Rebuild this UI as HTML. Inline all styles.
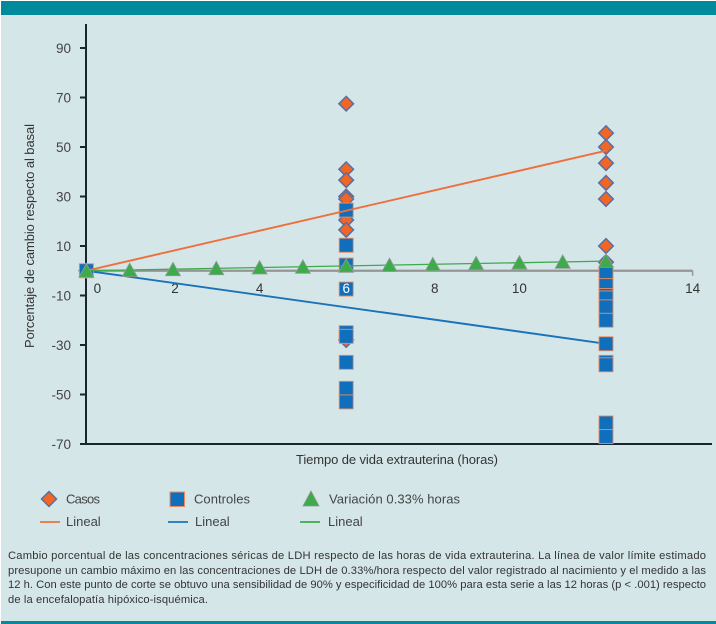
<!DOCTYPE html>
<html lang="es">
<head>
<meta charset="utf-8">
<title>Cambio porcentual de LDH</title>
<style>
html,body{margin:0;padding:0;background:#fff}
body{width:716px;height:624px;overflow:hidden}
svg{display:block;font-family:"Liberation Sans",sans-serif}
</style>
</head>
<body>
<svg id="chart" width="716" height="624" viewBox="0 0 716 624">
  <rect x="1" y="1" width="715" height="623" fill="#d5e6e9"/>
  <rect x="1" y="1" width="715" height="14" fill="#008b9c"/>
  <rect x="1" y="621" width="715" height="3" fill="#008b9c"/>

  <g id="grid-layer"></g>
  <g id="marks-layer"></g>
  <g id="top-label-layer"></g>

  <text x="34" y="236" transform="rotate(-90 34 236)" text-anchor="middle" font-size="13" fill="#333" textLength="224">Porcentaje de cambio respecto al basal</text>
  <text x="296" y="464" font-size="13" fill="#333" textLength="202">Tiempo de vida extrauterina (horas)</text>

  <g font-size="13" fill="#444">
    <g>
      <polygon points="49,491.5 56.5,499 49,506.5 41.5,499" fill="#f26522" stroke="#5b6fa0" stroke-width="1.5"/>
      <text x="66" y="503.5" textLength="34">Casos</text>
    </g>
    <g>
      <rect x="170" y="492" width="14.5" height="14.5" fill="#0f6fbd" stroke="#ee8a5c" stroke-width="1"/>
      <text x="194" y="503.5" textLength="56">Controles</text>
    </g>
    <g>
      <polygon points="311,491 319,506 303,506" fill="#3dab4b" stroke="#8a9a8c" stroke-width="0.8"/>
      <text x="329" y="503.5" textLength="131">Variación 0.33% horas</text>
    </g>
    <g>
      <line x1="40" x2="60" y1="522" y2="522" stroke="#ee6f3c" stroke-width="1.8"/>
      <text x="66" y="526">Lineal</text>
    </g>
    <g>
      <line x1="168" x2="188" y1="522" y2="522" stroke="#1a72b8" stroke-width="1.8"/>
      <text x="195" y="526">Lineal</text>
    </g>
    <g>
      <line x1="300" x2="320" y1="522" y2="522" stroke="#3dab4b" stroke-width="1.8"/>
      <text x="328" y="526">Lineal</text>
    </g>
  </g>

  <g font-size="11.2" fill="#333">
    <text x="8" y="559" textLength="698">Cambio porcentual de las concentraciones séricas de LDH respecto de las horas de vida extrauterina. La línea de valor límite estimado</text>
    <text x="8" y="574" textLength="698">presupone un cambio máximo en las concentraciones de LDH de 0.33%/hora respecto del valor registrado al nacimiento y el medido a las</text>
    <text x="8" y="588" textLength="698">12 h. Con este punto de corte se obtuvo una sensibilidad de 90% y especificidad de 100% para esta serie a las 12 horas (p &lt; .001) respecto</text>
    <text x="8" y="603" textLength="200">de la encefalopatía hipóxico-isquémica.</text>
  </g>
</svg>

<script>
var yTicks = [90, 70, 50, 30, 10, -10, -30, -50, -70];
var xTicks = [0, 2, 4, 6, 8, 10, 12, 14];

var casosX = [0, 6, 6, 6, 6, 6, 6, 6, 6, 12, 12, 12, 12, 12, 12, 12];
var casosY = [0, 67.5, 41, 36.6, 30, 29, 20.5, 16.5, -28, 55.6, 50, 43.5, 35.5, 29, 10, 3.5];

var controlesX = [0, 6, 6, 6, 6, 6, 6, 6, 6, 6, 12, 12, 12, 12, 12, 12, 12, 12, 12, 12, 12];
var controlesY = [0, 24.5, 10.3, 2.3, -7.4, -25, -26.5, -37, -47.5, -53, -1.3, -6, -10, -11, -14.6, -20, -29.5, -37, -38, -61.5, -67];

var variacionX = [0, 1, 2, 3, 4, 5, 6, 7, 8, 9, 10, 11, 12];
var variacionY = [0, 0.3, 0.6, 1, 1.3, 1.6, 2, 2.3, 2.6, 3, 3.3, 3.6, 4];

var trendX = [0, 12];
var trendCasos = [0, 48.5];
var trendControles = [0, -29.5];
var trendVariacion = [0, 3.9];

var NS = 'http://www.w3.org/2000/svg';
var gridLayer = document.getElementById('grid-layer');
var marksLayer = document.getElementById('marks-layer');
var topLabelLayer = document.getElementById('top-label-layer');

function xScale(v) { return 86.4 + v * 43.3; }
function yScale(v) { return 270.75 - v * 2.475; }

function makeLine(parent, x1, y1, x2, y2, color, width) {
  var el = document.createElementNS(NS, 'line');
  el.setAttribute('x1', x1);
  el.setAttribute('y1', y1);
  el.setAttribute('x2', x2);
  el.setAttribute('y2', y2);
  el.setAttribute('stroke', color);
  el.setAttribute('stroke-width', width);
  parent.appendChild(el);
  return el;
}

function makeText(parent, x, y, str, color, anchor) {
  var el = document.createElementNS(NS, 'text');
  el.setAttribute('x', x);
  el.setAttribute('y', y);
  el.setAttribute('fill', color);
  el.setAttribute('font-size', '13.5');
  el.setAttribute('text-anchor', anchor);
  el.textContent = str;
  parent.appendChild(el);
  return el;
}

function drawAxes() {
  var yAxis = makeLine(gridLayer, 86, 24, 86, 445, '#1b2530', 2);
  
  

  var xAxis = makeLine(gridLayer, 80, 444, 712, 444, '#1b2530', 2);
  
  

  var zero = makeLine(gridLayer, xScale(0), yScale(0), xScale(14), yScale(0), '#959595', 2.3);
  
  

  var endTick = makeLine(gridLayer, xScale(14), yScale(0), xScale(14), yScale(0) + 5, '#959595', 1.5);
  
  

  yTicks.forEach(function (t) {
    var tick = makeLine(gridLayer, 80, yScale(t), 86, yScale(t), '#1b2530', 2);
    
    
    var label = makeText(gridLayer, 71, yScale(t) + 5, String(t), '#444', 'end');
    
    
  });

  xTicks.forEach(function (t) {
    var nudge = t === 0 ? 11 : (t === 2 ? 2 : (t === 8 ? 2 : 0));
    var onSquares = t === 6;
    var parent = onSquares ? topLabelLayer : gridLayer;
    var color = onSquares ? '#ffffff' : '#333';
    var label = makeText(parent, xScale(t) + nudge, 293, String(t), color, 'middle');
    
    
  });
}

function drawDiamond(px, py) {
  var r = 7.3;
  var el = document.createElementNS(NS, 'polygon');
  el.setAttribute('points', px + ',' + (py - r) + ' ' + (px + r) + ',' + py + ' ' + px + ',' + (py + r) + ' ' + (px - r) + ',' + py);
  el.setAttribute('fill', '#f26522');
  el.setAttribute('stroke', '#5b6fa0');
  el.setAttribute('stroke-width', '1.5');
  
  
  marksLayer.appendChild(el);
}

function drawSquare(px, py) {
  var el = document.createElementNS(NS, 'rect');
  el.setAttribute('x', px - 7);
  el.setAttribute('y', py - 7);
  el.setAttribute('width', 14);
  el.setAttribute('height', 14);
  el.setAttribute('fill', '#0f6fbd');
  el.setAttribute('stroke', '#ee8a5c');
  el.setAttribute('stroke-width', '0.9');
  
  
  marksLayer.appendChild(el);
}

function drawTriangle(px, py) {
  var el = document.createElementNS(NS, 'polygon');
  el.setAttribute('points', px + ',' + (py - 7) + ' ' + (px + 7.5) + ',' + (py + 6.5) + ' ' + (px - 7.5) + ',' + (py + 6.5));
  el.setAttribute('fill', '#3dab4b');
  el.setAttribute('stroke', '#8f9d92');
  el.setAttribute('stroke-width', '0.8');
  
  
  marksLayer.appendChild(el);
}

drawAxes();

var blueLine = makeLine(marksLayer, xScale(trendX[0]), yScale(trendControles[0]), xScale(trendX[1]), yScale(trendControles[1]), '#1a72b8', 1.9);



casosX.forEach(function (x, i) { drawDiamond(xScale(x), yScale(casosY[i])); });
controlesX.forEach(function (x, i) { drawSquare(xScale(x), yScale(controlesY[i])); });

var orangeLine = makeLine(marksLayer, xScale(trendX[0]), yScale(trendCasos[0]), xScale(trendX[1]), yScale(trendCasos[1]), '#ee6f3c', 1.9);



var greenLine = makeLine(marksLayer, xScale(trendX[0]), yScale(trendVariacion[0]), xScale(trendX[1]), yScale(trendVariacion[1]), '#3dab4b', 1.3);



variacionX.forEach(function (x, i) { drawTriangle(xScale(x), yScale(variacionY[i])); });
</script>
</body>
</html>
